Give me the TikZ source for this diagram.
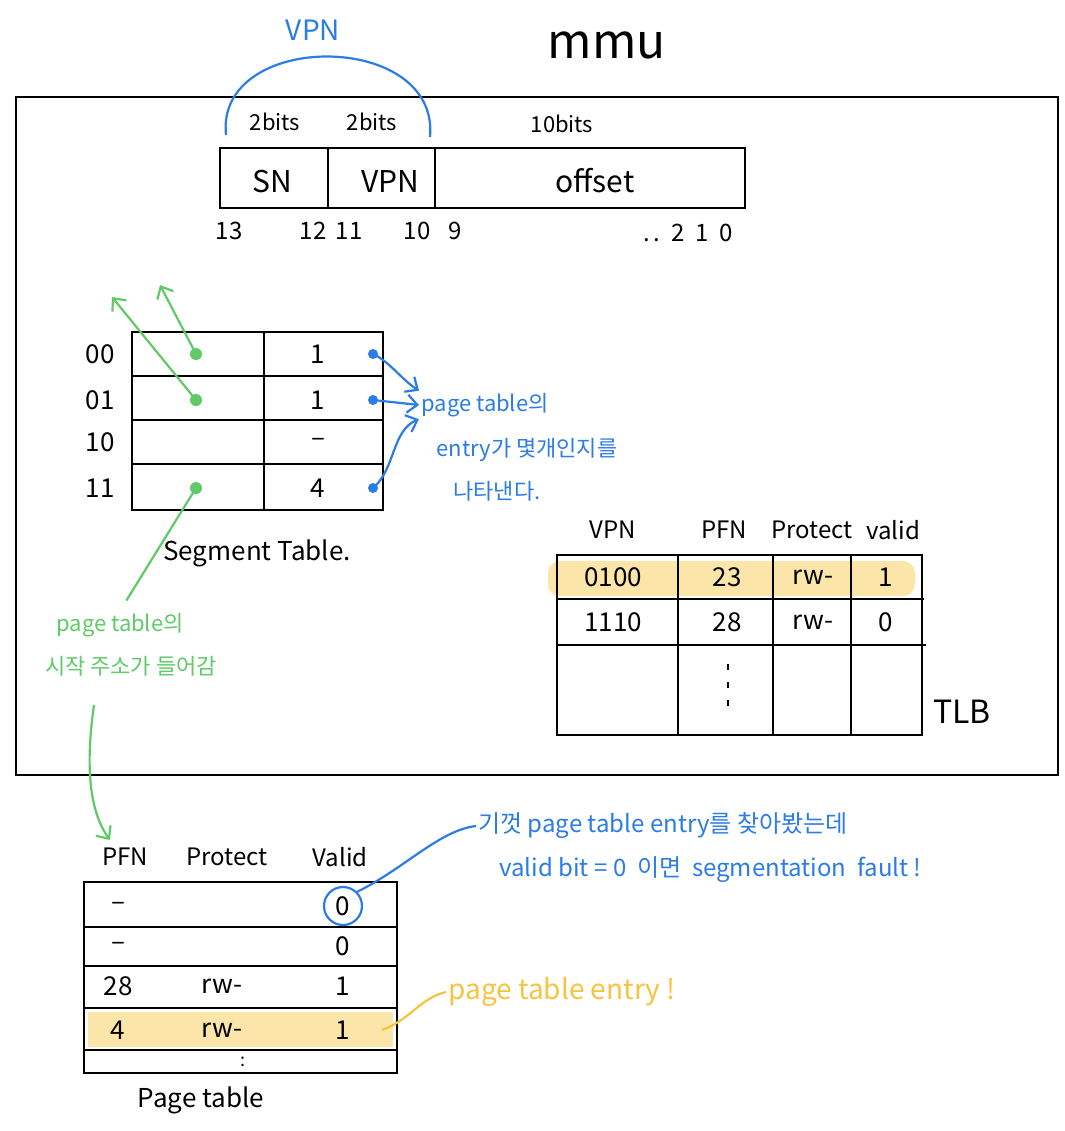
\documentclass[tikz,border=0pt]{standalone}
\usepackage{fontspec}
\setmainfont{Noto Sans CJK KR}
\usetikzlibrary{arrows.meta,positioning}
\definecolor{penblue}{RGB}{44,124,230}
\definecolor{pengreen}{RGB}{96,202,104}
\definecolor{penyellow}{RGB}{246,196,64}
\definecolor{marker}{RGB}{252,229,168}
\tikzset{
  ink/.style={line width=1.3pt},
  hand/.style={font=\fontsize{#1}{#1}\selectfont, inner sep=1pt},
  hand/.default=13,
  bluepen/.style={penblue, line width=1.1pt},
  greenpen/.style={pengreen, line width=1.1pt},
  yellowpen/.style={penyellow, line width=1.1pt},
  tip/.style={-{Straight Barb[length=5pt,width=9pt]}},
}

\begin{document}
\begin{tikzpicture}[x=0.5pt,y=-0.5pt]
\fill[white] (0,0) rectangle (1065,1131);
% mmu
\draw[ink] (16,97) rectangle (1058,775);
\node[hand=24] (mmu) at (607,45) {mmu};

% address bits
\draw[ink] (220,148) rectangle (745,208);
\draw[ink] (328,148) -- (328,208);
\draw[ink] (435,148) -- (435,208);
\node[hand=15] (sn) at (272,181) {SN};
\node[hand=15] (vpn) at (390,181) {VPN};
\node[hand=15] (off) at (595,181) {offset};
\node[hand=11] (b1) at (275,122) {2bits};
\node[hand=11] (b2) at (372,122) {2bits};
\node[hand=11] (b3) at (562,124) {10bits};
\foreach \x/\n [count=\i] in {229/13, 313/12, 349/11, 417/10, 455/9}
  \node[hand=12] (bit\i) at (\x,231) {\n};
\node[hand=12] (bitlow) at (688,233) {.\,.\ \ 2\ \ 1\ \ 0};
\coordinate (arcL) at (226,135);
\coordinate (arcR) at (430,137);
\draw[bluepen] (arcL) .. controls (215,30) and (440,30) .. (arcR);
\node[hand=14, text=penblue] (vpnlbl) at (313,30) {VPN};

% segment table
\draw[ink] (132,332) rectangle (383,510);
\draw[ink] (264,332) -- (264,510);
\foreach \y in {376,420,464} \draw[ink] (132,\y) -- (383,\y);
\foreach \y/\sn/\cnt [count=\i] in {354/00/1, 400/01/1, 442/10/--, 488/11/4} {
  \node[hand=13] (sn\i) at (100,\y) {\sn};
  \node[hand=13] (cnt\i) at (318,\y) {\cnt};
  \coordinate (cd\i) at (373,\y);
  \coordinate (ptr\i) at (196,\y);
}
\node[hand=13] (segtab) at (257,553) {Segment Table.};

% green: start address
\foreach \c in {ptr1,ptr2,ptr4} \fill[pengreen] (\c) circle (3pt);
\coordinate (up1) at (160,285);
\coordinate (up2) at (112,297);
\draw[greenpen,tip] (ptr1) -- (up1);
\draw[greenpen,tip] (ptr2) -- (up2);
\node[hand=11,text=pengreen] (start1) at (120,625) {page table의};
\node[hand=11,text=pengreen] (start2) at (131,666) {시작 주소가 들어감};
\draw[greenpen,shorten >=6pt] (ptr4) -- (start1.north);
\coordinate (gtail) at (94,705);
\coordinate (ptarrow) at (110,840);
\draw[greenpen,tip] (gtail) .. controls (84,775) and (92,815) .. (ptarrow);

% blue: entry count
\foreach \c in {cd1,cd2,cd4} \fill[penblue] (\c) circle (2.5pt);
\node[hand=11,text=penblue] (note1) at (485,405) {page table의};
\node[hand=11,text=penblue] (note2) at (527,450) {entry가 몇개인지를};
\node[hand=11,text=penblue] (note3) at (497,491) {나타낸다.};
\draw[bluepen,tip] (cd1) .. controls (390,362) and (400,378) .. (note1.north west);
\draw[bluepen,tip] (cd2) -- (note1.west);
\draw[bluepen,tip] (cd4) .. controls (395,470) and (392,430) .. (note1.south west);

% TLB
\fill[marker, rounded corners=6pt] (548,561) rectangle (915,596);
\draw[ink] (557,555) rectangle (922,735);
\foreach \x in {678,773,851} \draw[ink] (\x,555) -- (\x,735);
\draw[ink] (557,599) -- (924,599);
\draw[ink] (557,645) -- (926,645);
\foreach \x/\h [count=\i] in {613/VPN, 724/PFN, 812/Protect, 893/valid}
  \node[hand=12] (th\i) at (\x,530) {\h};
\foreach \y/\a/\b/\c/\d [count=\i] in {577/0100/23/rw-/1, 622/1110/28/rw-/0} {
  \node[hand=13] (tv\i) at (613,\y) {\a};
  \node[hand=13] (tp\i) at (727,\y) {\b};
  \node[hand=13] (tr\i) at (813,\y) {\c};
  \node[hand=13] (tb\i) at (886,\y) {\d};
}
\foreach \y in {667,685,703} \draw[line width=1.3pt] (728,\y-3) -- (728,\y+3);
\node[hand=16] (tlb) at (962,712) {TLB};

% page table
\fill[marker] (88,1012) rectangle (393,1047);
\draw[ink] (84,882) rectangle (397,1073);
\foreach \y in {927,966,1008,1050} \draw[ink] (84,\y) -- (397,\y);
\foreach \x/\h [count=\i] in {125/PFN, 227/Protect, 340/Valid}
  \node[hand=12] (ph\i) at (\x,857) {\h};
\foreach \y/\pfn/\prot/\val [count=\i] in {906/--//0, 946/--//0, 986/28/rw-/1, 1030/4/rw-/1} {
  \node[hand=13] (pf\i) at (118,\y) {\pfn};
  \node[hand=13] (pr\i) at (222,\y) {\prot};
  \node[hand=13] (pv\i) at (343,\y) {\val};
}
\node[hand=9] (ptdots) at (243,1062) {:};
\node[hand=13] (pagetab) at (201,1100) {Page table};

% blue: segmentation fault
\node[circle, draw=penblue, line width=1.1pt, minimum size=19pt, inner sep=0pt] (vcirc) at (pv1) {};
\node[hand=12,text=penblue,anchor=west] (fault1) at (476,826) {기껏 page table entry를 찾아봤는데};
\node[hand=12,text=penblue,anchor=west] (fault2) at (497,870) {valid bit = 0 \ 이면 \ segmentation \ fault !};
\draw[bluepen] (vcirc.north east) .. controls (405,868) and (440,830) .. (fault1.west);

% yellow: page table entry
\coordinate (hlend) at (382,1030);
\node[hand=14,text=penyellow,anchor=west] (entry) at (446,992) {page table entry !};
\draw[yellowpen] (hlend) .. controls (410,1020) and (420,998) .. (entry.west);
\end{tikzpicture}
\end{document}
